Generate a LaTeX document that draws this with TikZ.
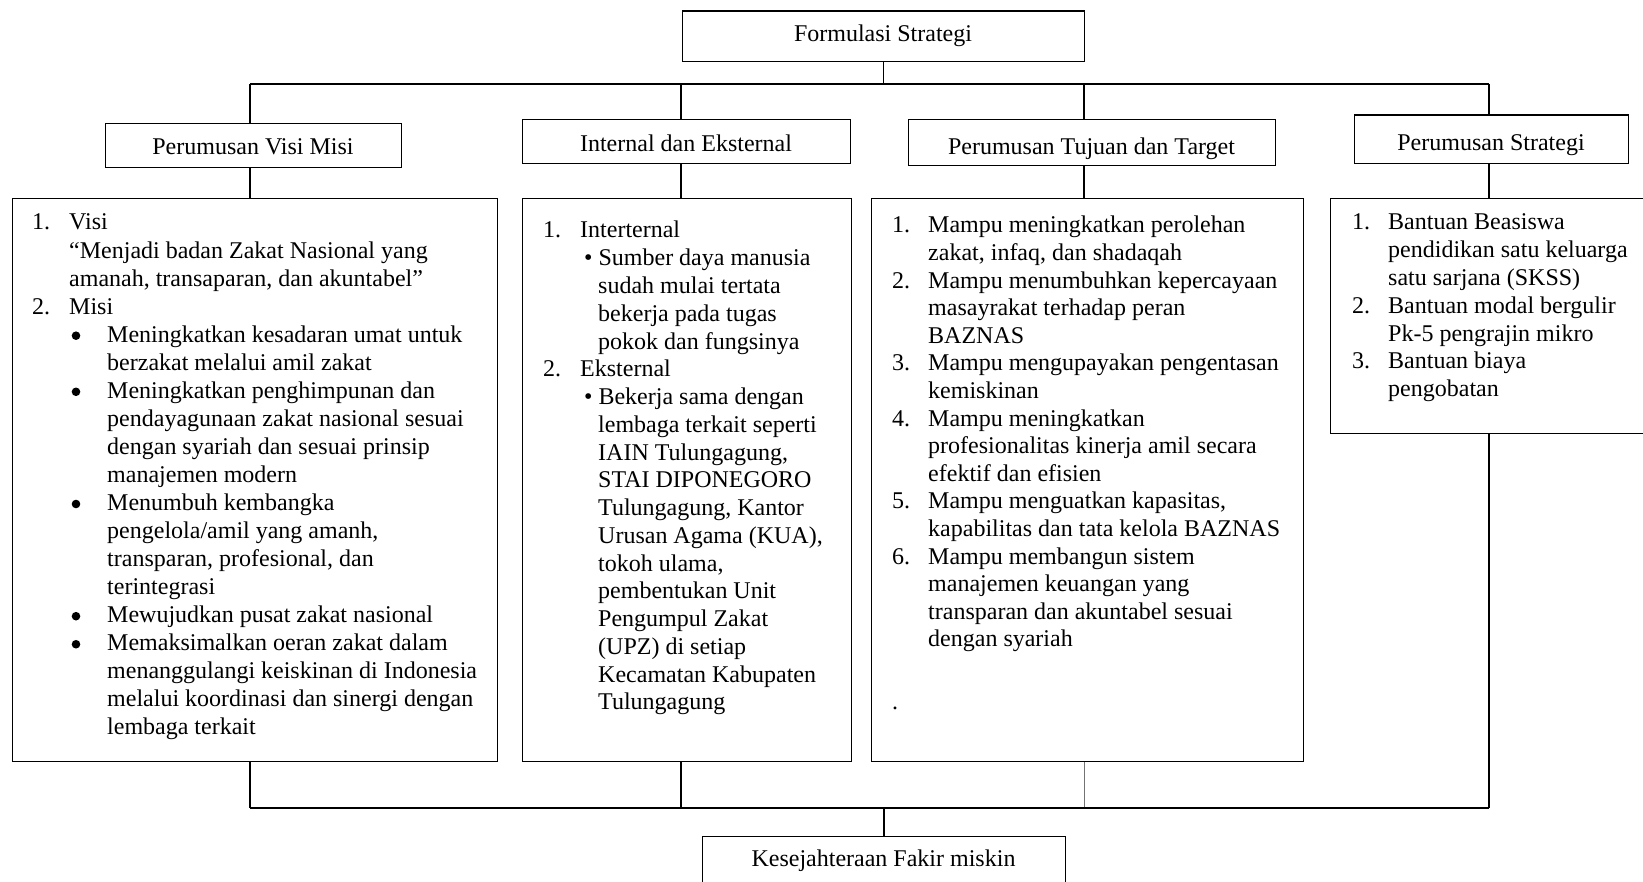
\documentclass[tikz,border=0pt]{standalone}
\usepackage{fontspec}
\setmainfont{Liberation Serif}
\newcommand\PL[2]{\makebox[0pt][l]{\hspace*{#1pt}#2}}
\newcommand\fsz{\fontsize{24}{28}\selectfont}
\tikzset{
  hbox/.style={draw=black, line width=1.1pt, inner sep=0pt, anchor=north west},
  lbl/.style={anchor=base, inner sep=0pt, font=\fsz},
  bigbox/.style={draw=black, line width=1.1pt, inner sep=0pt, anchor=north west},
  conn/.style={line width=1.4pt},
  conngray/.style={line width=1pt, draw=black!55},
  bus/.style={line width=2.2pt},
  txt/.style={anchor=base west, inner sep=0pt},
  bulletdot/.style={fill=black},
}
\begin{document}
\begin{tikzpicture}[x=1pt, y=-1pt]
\useasboundingbox (0,0) rectangle (1643,882);
\clip (0,0) rectangle (1643,882);
\fill[white] (0,0) rectangle (1643,882);

% heading boxes
\node[hbox, minimum width=402pt, minimum height=50.5pt] (fs) at (682,10.5) {};
\node[hbox, minimum width=296pt, minimum height=44pt] (vm) at (105,123) {};
\node[hbox, minimum width=328pt, minimum height=44pt] (ie) at (522,119) {};
\node[hbox, minimum width=367pt, minimum height=46pt] (tt) at (908,119) {};
\node[hbox, minimum width=274pt, minimum height=48.5pt] (ps) at (1354,114.5) {};
\node[hbox, minimum width=363pt, minimum height=60pt] (ks) at (702,836) {};

\node[lbl] (fsl) at (883,42) {Formulasi Strategi};
\node[lbl] (vml) at (253,155) {Perumusan Visi Misi};
\node[lbl] (iel) at (686,152) {Internal dan Eksternal};
\node[lbl] (ttl) at (1091.5,155) {Perumusan Tujuan dan Target};
\node[lbl] (psl) at (1491,151) {Perumusan Strategi};
\node[lbl] (ksl) at (883.5,866.5) {Kesejahteraan Fakir miskin};

% big boxes
\node[bigbox, minimum width=485.5pt, minimum height=563pt] (b1) at (11.7,198) {};
\node[bigbox, minimum width=328.5pt, minimum height=563pt] (b2) at (522.3,198) {};
\node[bigbox, minimum width=432pt, minimum height=563pt] (b3) at (871,198) {};
\node[bigbox, minimum width=330pt, minimum height=235pt] (b4) at (1330,198) {};

% bus coordinates
\coordinate (t1) at (250,84);
\coordinate (t2) at (681,84);
\coordinate (t3) at (1084,84);
\coordinate (t4) at (1489,84);
\coordinate (u1) at (250,808);
\coordinate (u2) at (681,808);
\coordinate (u3) at (1084,808);
\coordinate (u4) at (1489,808);

% top connectors
\draw[conn] (fs.south) -- (fs.south |- t1);
\draw[bus] (t1) -- (t4);
\draw[conn] (t1) -- (t1 |- vm.north);
\draw[conn] (t2) -- (t2 |- ie.north);
\draw[conn] (t3) -- (t3 |- tt.north);
\draw[conn] (t4) -- (t4 |- ps.north);
\draw[conn] (t1 |- vm.south) -- (t1 |- b1.north);
\draw[conn] (t2 |- ie.south) -- (t2 |- b2.north);
\draw[conn] (t3 |- tt.south) -- (t3 |- b3.north);
\draw[conn] (t4 |- ps.south) -- (t4 |- b4.north);

% bottom connectors
\draw[conn] (u1 |- b1.south) -- (u1);
\draw[conn] (u2 |- b2.south) -- (u2);
\draw[conngray] (u3 |- b3.south) -- (u3);
\draw[conn] (u4 |- b4.south) -- (u4);
\draw[bus] (u1) -- (u4);
\draw[conn] (ks.north) -- (ks.north |- u1);

% box 1 text
\node[txt] (b1t) at (32,230) {\parbox[t]{460pt}{\fontsize{24}{28.05}\selectfont
\PL{0}{1.}\PL{37}{Visi}\par
\PL{37}{“Menjadi badan Zakat Nasional yang}\par
\PL{37}{amanah, transaparan, dan akuntabel”}\par
\PL{0}{2.}\PL{37}{Misi}\par
\PL{75}{Meningkatkan kesadaran umat untuk}\par
\PL{75}{berzakat melalui amil zakat}\par
\PL{75}{Meningkatkan penghimpunan dan}\par
\PL{75}{pendayagunaan zakat nasional sesuai}\par
\PL{75}{dengan syariah dan sesuai prinsip}\par
\PL{75}{manajemen modern}\par
\PL{75}{Menumbuh kembangka}\par
\PL{75}{pengelola/amil yang amanh,}\par
\PL{75}{transparan, profesional, dan}\par
\PL{75}{terintegrasi}\par
\PL{75}{Mewujudkan pusat zakat nasional}\par
\PL{75}{Memaksimalkan oeran zakat dalam}\par
\PL{75}{menanggulangi keiskinan di Indonesia}\par
\PL{75}{melalui koordinasi dan sinergi dengan}\par
\PL{75}{lembaga terkait}\par}};
% box 1 bullets
\foreach \i in {4,6,10,14,15} {
  \fill[bulletdot] (76,{230+28.05*\i-6.5}) circle (4.3pt);
}

% box 2 text
\node[txt] (b2t) at (543,238) {\parbox[t]{300pt}{\fontsize{24}{27.76}\selectfont
\PL{0}{1.}\PL{37}{Interternal}\par
\PL{41}{• Sumber daya manusia}\par
\PL{55}{sudah mulai tertata}\par
\PL{55}{bekerja pada tugas}\par
\PL{55}{pokok dan fungsinya}\par
\PL{0}{2.}\PL{37}{Eksternal}\par
\PL{41}{• Bekerja sama dengan}\par
\PL{55}{lembaga terkait seperti}\par
\PL{55}{IAIN Tulungagung,}\par
\PL{55}{STAI DIPONEGORO}\par
\PL{55}{Tulungagung, Kantor}\par
\PL{55}{Urusan Agama (KUA),}\par
\PL{55}{tokoh ulama,}\par
\PL{55}{pembentukan Unit}\par
\PL{55}{Pengumpul Zakat}\par
\PL{55}{(UPZ) di setiap}\par
\PL{55}{Kecamatan Kabupaten}\par
\PL{55}{Tulungagung}\par}};

% box 3 text
\node[txt] (b3t) at (892,233) {\parbox[t]{400pt}{\fontsize{24}{27.6}\selectfont
\PL{0}{1.}\PL{36}{Mampu meningkatkan perolehan}\par
\PL{36}{zakat, infaq, dan shadaqah}\par
\PL{0}{2.}\PL{36}{Mampu menumbuhkan kepercayaan}\par
\PL{36}{masayrakat terhadap peran}\par
\PL{36}{BAZNAS}\par
\PL{0}{3.}\PL{36}{Mampu mengupayakan pengentasan}\par
\PL{36}{kemiskinan}\par
\PL{0}{4.}\PL{36}{Mampu meningkatkan}\par
\PL{36}{profesionalitas kinerja amil secara}\par
\PL{36}{efektif dan efisien}\par
\PL{0}{5.}\PL{36}{Mampu menguatkan kapasitas,}\par
\PL{36}{kapabilitas dan tata kelola BAZNAS}\par
\PL{0}{6.}\PL{36}{Mampu membangun sistem}\par
\PL{36}{manajemen keuangan yang}\par
\PL{36}{transparan dan akuntabel sesuai}\par
\PL{36}{dengan syariah}\par}};
\node[txt, font=\fsz] (b3dot) at (892,709) {.};

% box 4 text
\node[txt] (b4t) at (1352,230) {\parbox[t]{280pt}{\fontsize{24}{27.77}\selectfont
\PL{0}{1.}\PL{36}{Bantuan Beasiswa}\par
\PL{36}{pendidikan satu keluarga}\par
\PL{36}{satu sarjana (SKSS)}\par
\PL{0}{2.}\PL{36}{Bantuan modal bergulir}\par
\PL{36}{Pk-5 pengrajin mikro}\par
\PL{0}{3.}\PL{36}{Bantuan biaya}\par
\PL{36}{pengobatan}\par}};
\end{tikzpicture}
\end{document}
